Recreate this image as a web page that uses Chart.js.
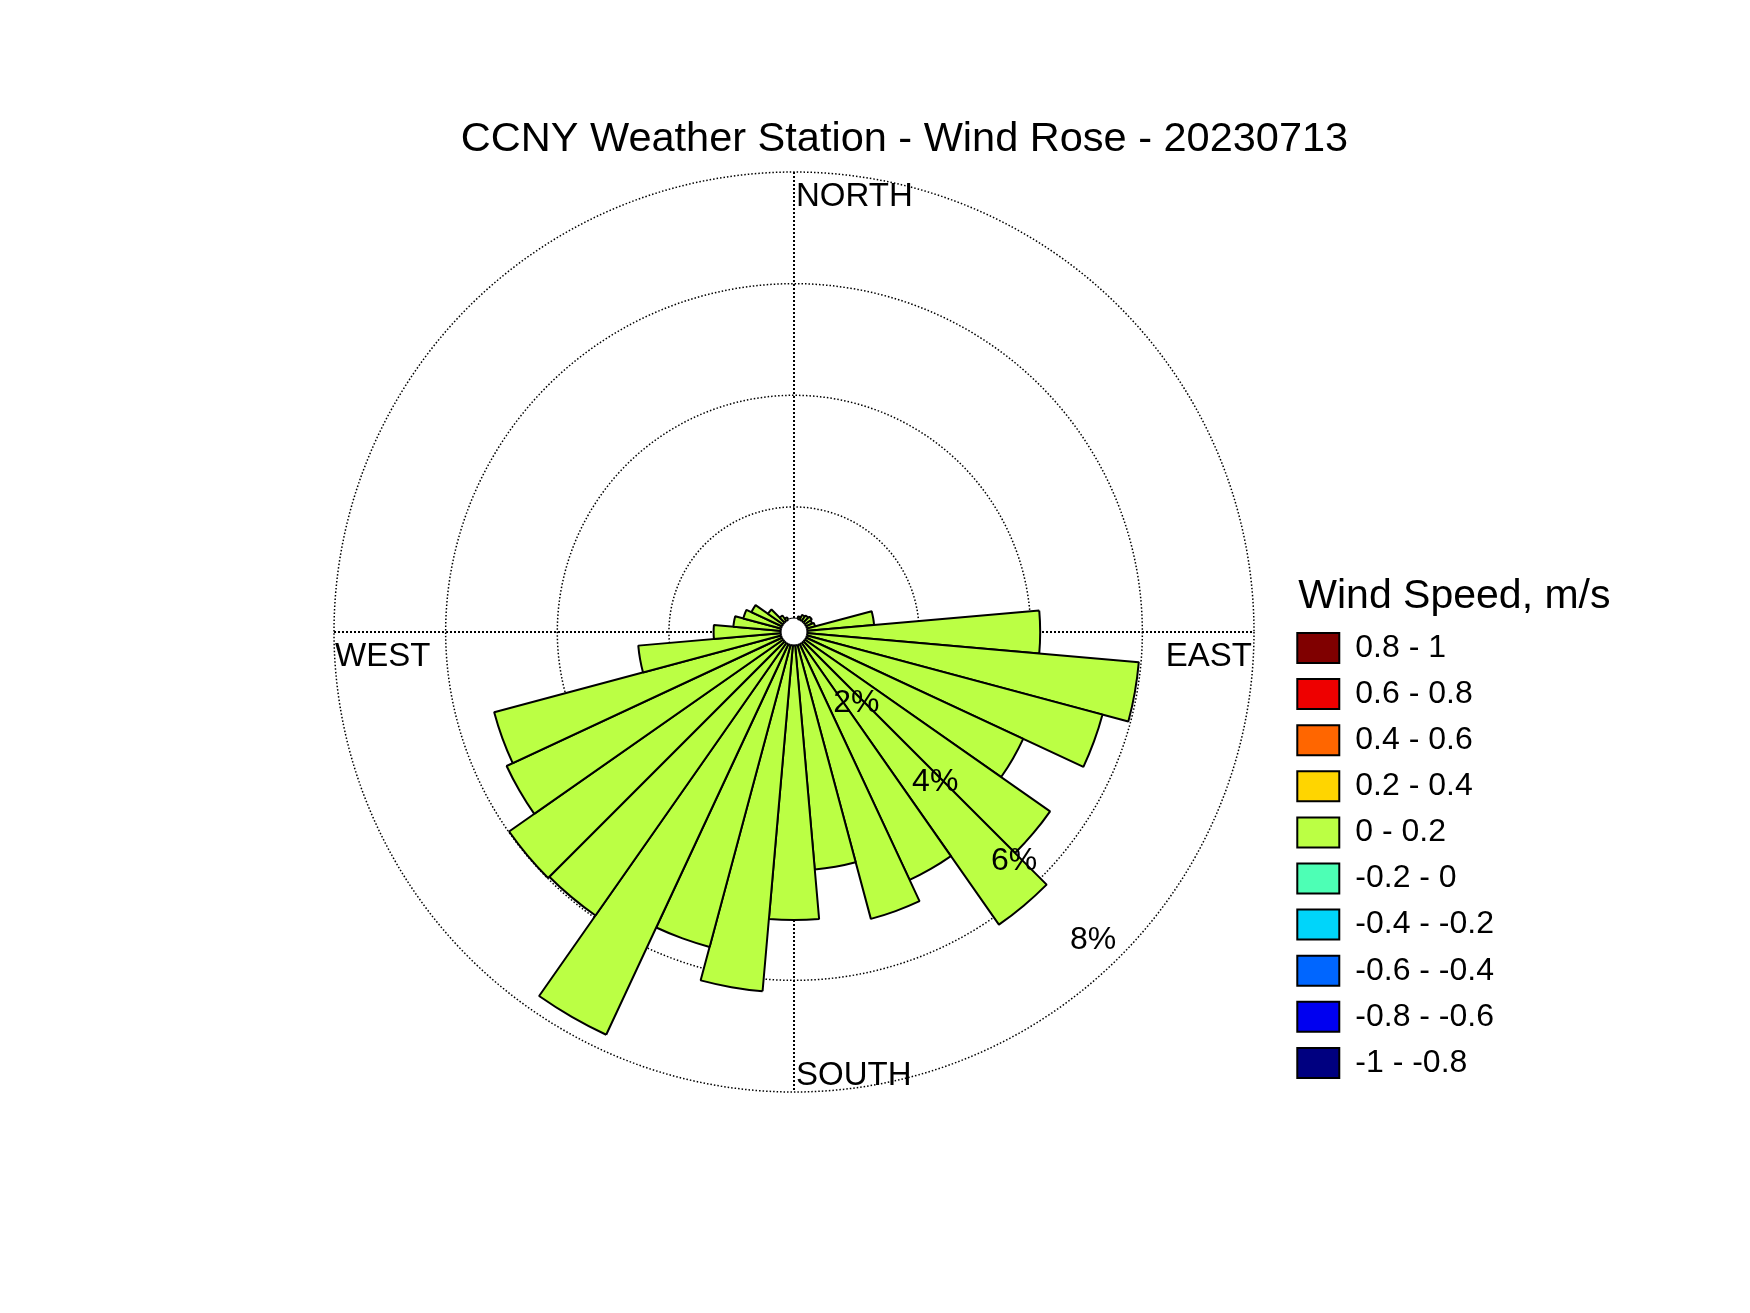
<!DOCTYPE html>
<html>
<head>
<meta charset="utf-8">
<title>CCNY Weather Station - Wind Rose</title>
<script src="https://cdn.jsdelivr.net/npm/chart.js@4.4.0/dist/chart.umd.min.js"></script>
<style>
  html, body { margin: 0; padding: 0; background: #fff; }
  #wrap { width: 1750px; height: 1313px; }
</style>
</head>
<body>
<div id="wrap"><canvas id="rose" width="1750" height="1313"></canvas></div>
<script>
// wind rose, 10 degree direction bins, frequency in %
const directions = [0, 10, 20, 30, 40, 50, 60, 70, 80, 90, 100, 110,
  120, 130, 140, 150, 160, 170, 180, 190, 200, 210, 220, 230,
  240, 250, 260, 270, 280, 290, 300, 310, 320, 330, 340, 350];
const frequency = [0, 0, 0.05, 0.1, 0.12, 0.15, 0.12, 0.15, 1.2, 4.17, 5.96, 5.48,
  4.29, 5.36, 6.16, 4.66, 5.08, 4.03, 4.92, 6.22, 5.6, 7.72, 5.96, 5.99,
  5.44, 5.32, 2.56, 1.2, 0.85, 0.7, 0.6, 0.33, 0.12, 0.05, 0, 0];

const ringTicks = [2, 4, 6, 8];
const ringLabels = ['2%', '4%', '6%', '8%'];
const compassLabels = ['NORTH', 'EAST', 'SOUTH', 'WEST'];

const legendTitle = 'Wind Speed, m/s';
const speedBins = ['0.8 - 1', '0.6 - 0.8', '0.4 - 0.6', '0.2 - 0.4', '0 - 0.2',
  '-0.2 - 0', '-0.4 - -0.2', '-0.6 - -0.4', '-0.8 - -0.6', '-1 - -0.8'];
const speedColors = ['#800000', '#EE0000', '#FF6600', '#FFD500', '#BBFF44',
  '#4DFFB5', '#00D5FA', '#0066FF', '#0000F0', '#000080'];

const FONT = 'Arial, "Liberation Sans", Helvetica, sans-serif';
Chart.defaults.font.family = FONT;
Chart.defaults.color = '#000';

const LEGEND_PAD = 14.1;
const LEGEND_FONT = 32;

const toRad = (deg) => (deg - 90) * Math.PI / 180;

// dotted compass cross, centre hole, ring + compass labels, legend heading
const roseDecor = {
  id: 'roseDecor',
  beforeDatasetsDraw(chart) {
    const s = chart.scales.r;
    const ctx = chart.ctx;
    const R = s.drawingArea;
    ctx.save();
    ctx.strokeStyle = '#000';
    ctx.lineWidth = 2;
    ctx.setLineDash([2, 2]);
    ctx.beginPath();
    ctx.moveTo(s.xCenter - R, s.yCenter);
    ctx.lineTo(s.xCenter + R, s.yCenter);
    ctx.moveTo(s.xCenter, s.yCenter - R);
    ctx.lineTo(s.xCenter, s.yCenter + R);
    ctx.stroke();
    ctx.restore();
  },
  afterDatasetsDraw(chart) {
    const s = chart.scales.r;
    const ctx = chart.ctx;
    const cx = s.xCenter, cy = s.yCenter, R = s.drawingArea;
    const hole = s.getDistanceFromCenterForValue(0);
    ctx.save();

    // white hole in the middle, outlined where a petal starts
    ctx.fillStyle = '#fff';
    ctx.beginPath();
    ctx.arc(cx, cy, hole, 0, Math.PI * 2);
    ctx.fill();
    ctx.strokeStyle = '#000';
    ctx.lineWidth = 2;
    directions.forEach((d, i) => {
      if (frequency[i] <= 0) return;
      ctx.beginPath();
      ctx.arc(cx, cy, hole, toRad(d - 5), toRad(d + 5));
      ctx.stroke();
    });

    ctx.fillStyle = '#000';
    ctx.textBaseline = 'alphabetic';

    // percent labels along the SE diagonal
    ctx.font = '32px ' + FONT;
    ctx.textAlign = 'right';
    ringTicks.forEach((v, i) => {
      const d = s.getDistanceFromCenterForValue(v) * Math.SQRT1_2;
      ctx.fillText(ringLabels[i], cx + d - 3, cy + d - 8);
    });

    // compass labels
    ctx.font = '33px ' + FONT;
    ctx.textAlign = 'left';
    ctx.fillText(compassLabels[0], cx + 2, cy - R + 34);
    ctx.fillText(compassLabels[2], cx + 2, cy + R - 7);
    ctx.fillText(compassLabels[3], cx - R + 1, cy + 34);
    ctx.textAlign = 'right';
    ctx.fillText(compassLabels[1], cx + R - 2, cy + 34);
    ctx.restore();
  },
  afterDraw(chart) {
    // legend heading, drawn here so the legend box does not clip it
    const lg = chart.legend;
    const rowsTop = lg.bottom - speedBins.length * (LEGEND_FONT + LEGEND_PAD);
    const ctx = chart.ctx;
    ctx.save();
    ctx.fillStyle = '#000';
    ctx.font = '41px ' + FONT;
    ctx.textAlign = 'left';
    ctx.textBaseline = 'alphabetic';
    ctx.fillText(legendTitle, lg.left + LEGEND_PAD + 1, rowsTop - 24);
    ctx.restore();
  }
};

const ctx = document.getElementById('rose').getContext('2d');

new Chart(ctx, {
  type: 'polarArea',
  data: {
    labels: directions,
    datasets: [{
      label: '0 - 0.2',
      data: frequency,
      backgroundColor: speedColors[4],
      borderColor: '#000',
      borderWidth: 2
    }]
  },
  options: {
    responsive: false,
    animation: false,
    events: [],
    layout: {
      padding: { top: 100, left: 305, right: 246, bottom: 220 }
    },
    scales: {
      r: {
        min: -0.24,
        max: 8,
        startAngle: -5,
        afterBuildTicks: (scale) => {
          scale.ticks = ringTicks.map(v => ({ value: v }));
        },
        ticks: { display: false },
        pointLabels: { display: false },
        angleLines: { display: false },
        grid: {
          circular: true,
          color: '#000',
          lineWidth: 1.5,
          borderDash: [1.5, 2]
        },
        border: { dash: [1.5, 2] }
      }
    },
    plugins: {
      tooltip: { enabled: false },
      title: {
        display: true,
        text: 'CCNY Weather Station - Wind Rose - 20230713',
        color: '#000',
        font: { size: 41.5, weight: 'normal' },
        padding: { top: 15, bottom: 8 }
      },
      legend: {
        display: true,
        position: 'right',
        align: 'end',
        fullSize: false,
        onClick: null,
        labels: {
          boxWidth: 42,
          boxHeight: 30,
          padding: LEGEND_PAD,
          color: '#000',
          font: { size: LEGEND_FONT },
          generateLabels: () => speedBins.map((text, i) => ({
            text: text,
            fillStyle: speedColors[i],
            strokeStyle: '#000',
            lineWidth: 2,
            hidden: false,
            index: i
          }))
        }
      }
    }
  },
  plugins: [roseDecor]
});
</script>
</body>
</html>
